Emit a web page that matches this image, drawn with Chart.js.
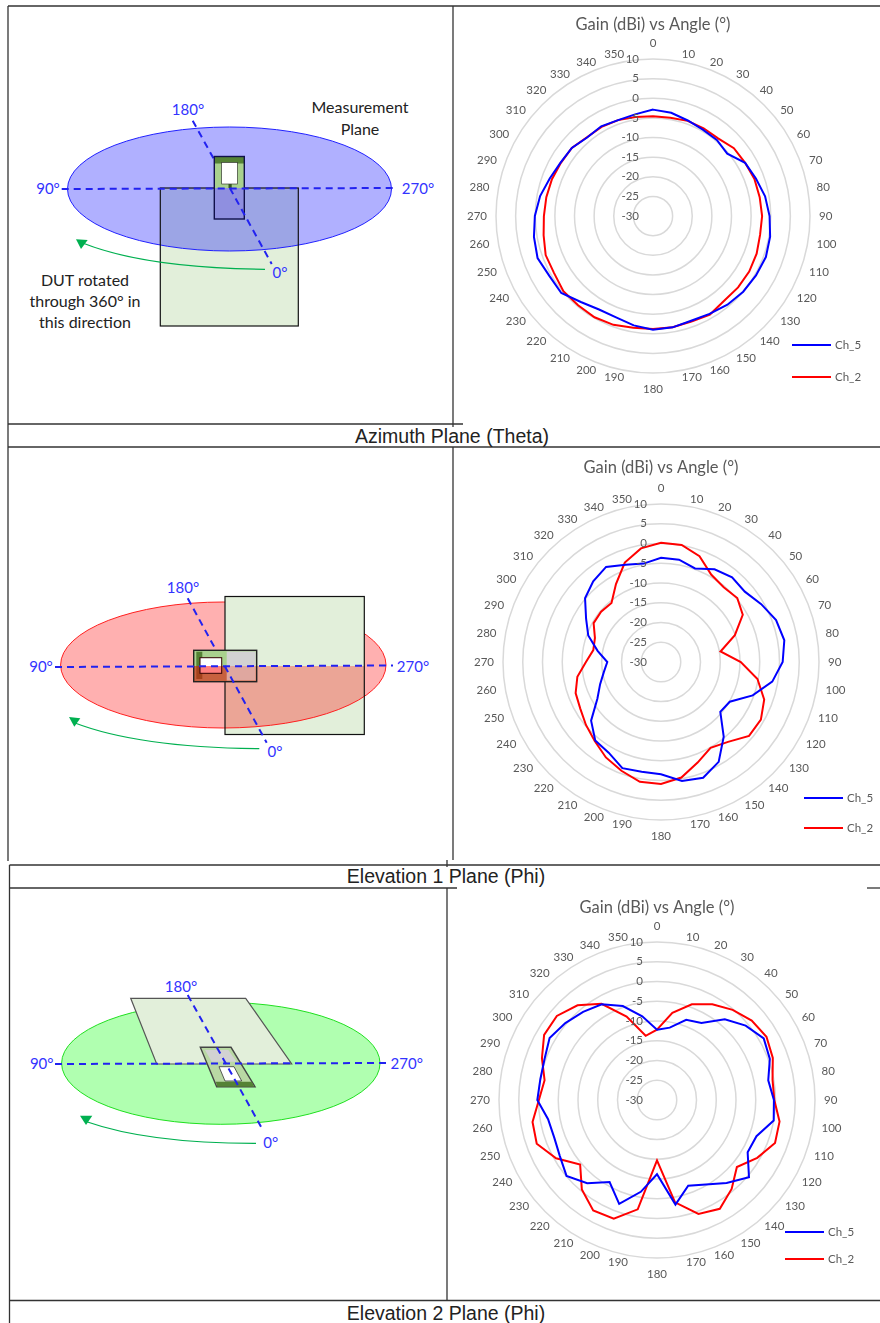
<!DOCTYPE html>
<html>
<head>
<meta charset="utf-8">
<title>Gain vs Angle</title>
<script src="https://cdn.jsdelivr.net/npm/chart.js@4/dist/chart.umd.js"></script>
<style>
    html, body { margin: 0; padding: 0; background: #fff; }
    #page { position: relative; width: 880px; height: 1323px; overflow: hidden; }
    #page svg { position: absolute; left: 0; top: 0; }
    canvas { position: absolute; }
    .lbl { font-family: Lato, sans-serif; font-size: 15px; fill: #3333ff; text-anchor: middle; dominant-baseline: central; }
    .note { font-family: Lato, sans-serif; font-size: 16px; fill: #222; text-anchor: middle; dominant-baseline: central; }
    .cap { font-family: "Liberation Sans", Arial, sans-serif; font-size: 19.5px; fill: #222; text-anchor: middle; dominant-baseline: central; }
    .tl { stroke: #333; stroke-width: 1.3; }
    .dash { stroke: #2222f0; stroke-width: 2; stroke-dasharray: 7 5; fill: none; }
    .arrow { stroke: #00b050; stroke-width: 1.2; fill: none; }
</style>
</head>
<body>
<div id="page">
<svg width="880" height="1323" viewBox="0 0 880 1323">
    <!-- table lines -->
    <line class="tl" x1="8" y1="6" x2="880" y2="6"/>
    <line class="tl" x1="8" y1="6" x2="8" y2="861"/>
    <line class="tl" x1="453" y1="6" x2="453" y2="427"/>
    <line class="tl" x1="453" y1="447" x2="453" y2="860"/>
    <line class="tl" x1="8" y1="424" x2="463" y2="424"/>
    <line class="tl" x1="8" y1="447" x2="880" y2="447"/>
    <line class="tl" x1="9.5" y1="865" x2="880" y2="865"/>
    <line class="tl" x1="9.5" y1="865" x2="9.5" y2="1323"/>
    <line class="tl" x1="447" y1="860" x2="447" y2="867"/>
    <line class="tl" x1="447" y1="888" x2="447" y2="1300"/>
    <line class="tl" x1="9.5" y1="888" x2="457" y2="888"/>
    <line class="tl" x1="867" y1="888" x2="880" y2="888"/>
    <line class="tl" x1="9.5" y1="1300.5" x2="880" y2="1300.5"/>
    <text class="cap" x="452" y="436">Azimuth Plane (Theta)</text>
    <text class="cap" x="446" y="876">Elevation 1 Plane (Phi)</text>
    <text class="cap" x="446" y="1313">Elevation 2 Plane (Phi)</text>

    <!-- azimuth diagram -->
    <rect x="160.3" y="188" width="138" height="138" fill="#e2efda"/>
    <ellipse cx="229.5" cy="189" rx="162" ry="62" fill="rgba(0,0,255,0.31)" stroke="#2020ff" stroke-width="1"/>
    <rect x="160.3" y="188" width="138" height="138" fill="none" stroke="#111" stroke-width="1.2"/>
    <line class="dash" x1="192.7" y1="120.7" x2="229.8" y2="188"/>
    <rect x="214.3" y="156.5" width="30" height="31.5" fill="#a9d18e"/>
    <rect x="214.3" y="157" width="30" height="6.5" fill="#548235"/>
    <rect x="214.3" y="188" width="30" height="31" fill="#8f8fe0"/>
    <rect x="214.3" y="156.5" width="30" height="62.5" fill="none" stroke="#10104a" stroke-width="1.4"/>
    <rect x="221.7" y="162.5" width="15.6" height="21.5" fill="#fff" stroke="#222" stroke-width="0.6"/>
    <rect x="228.5" y="184" width="3.2" height="4" fill="#385723"/>
    <line class="dash" x1="61.7" y1="189" x2="397" y2="188"/>
    <line class="dash" x1="229.8" y1="188" x2="271.7" y2="264"/>
    <text class="lbl" x="188" y="109">180°</text>
    <text class="lbl" x="48" y="188">90°</text>
    <text class="lbl" x="418" y="188">270°</text>
    <text class="lbl" x="280" y="272">0°</text>
    <text class="note" x="360" y="106">Measurement</text>
    <text class="note" x="360" y="128">Plane</text>
    <text class="note" x="85" y="279">DUT rotated</text>
    <text class="note" x="85" y="300">through 360° in</text>
    <text class="note" x="85" y="321">this direction</text>
    <path class="arrow" d="M265 269.3 Q146 268 83.3 243.3"/>
    <polygon points="76,239.3 87.7,240 81,249" fill="#00b050"/>

    <!-- elevation 1 diagram -->
    <rect x="225" y="596.5" width="139.3" height="138" fill="#e2efda"/>
    <ellipse cx="223.3" cy="665" rx="162.7" ry="63" fill="rgba(255,0,0,0.31)" stroke="#ff2020" stroke-width="1"/>
    <rect x="225" y="596.5" width="139.3" height="69.5" fill="#e2efda"/>
    <rect x="225" y="596.5" width="139.3" height="138" fill="none" stroke="#111" stroke-width="1.2"/>
    <line class="dash" x1="187.7" y1="598.3" x2="224.7" y2="666"/>
    <rect x="193.7" y="650.3" width="63" height="15.7" fill="#a9d18e"/>
    <rect x="193.7" y="666" width="63" height="15.7" fill="#c8613f"/>
    <rect x="196.3" y="651.7" width="6" height="14.3" fill="#548235"/>
    <rect x="196.3" y="666" width="6" height="13" fill="#a3421c"/>
    <rect x="226.7" y="651.5" width="29" height="14.5" fill="#d2d2d2"/>
    <rect x="226.7" y="666" width="29" height="14.5" fill="#dfa79f"/>
    <rect x="200" y="657.7" width="21.7" height="8.3" fill="#fff"/>
    <rect x="200" y="666" width="21.7" height="7.3" fill="#ff8080"/>
    <rect x="200" y="657.7" width="21.7" height="15.6" fill="none" stroke="#300" stroke-width="1"/>
    <rect x="193.7" y="650.3" width="63" height="31.4" fill="none" stroke="#222" stroke-width="1.4"/>
    <line class="dash" x1="55" y1="667" x2="393" y2="665.5"/>
    <line class="dash" x1="224.7" y1="666" x2="266.7" y2="742.7"/>
    <text class="lbl" x="183" y="587.3">180°</text>
    <text class="lbl" x="41" y="666">90°</text>
    <text class="lbl" x="413" y="666">270°</text>
    <text class="lbl" x="275" y="751">0°</text>
    <path class="arrow" d="M259.3 748.7 Q139 747.5 75 723"/>
    <polygon points="69,717 80.3,718.3 74.3,726.7" fill="#00b050"/>

    <!-- elevation 2 diagram -->
    <ellipse cx="220.8" cy="1063.3" rx="159.2" ry="61" fill="rgba(0,255,0,0.31)" stroke="#20e020" stroke-width="1"/>
    <polygon points="130.7,998.3 245.7,998.3 291.7,1064 156.7,1064" fill="#e2efda" stroke="#555" stroke-width="1.2"/>
    <polygon points="200.3,1047.3 231,1047.3 255,1086.7 216.7,1086.7" fill="#b9d8a4" stroke="#444" stroke-width="1.4"/>
    <polygon points="205,1050 228.3,1050 236.7,1061.7 211.7,1061.7" fill="#d2d2d2"/>
    <polygon points="219,1066.7 234,1066.7 241.7,1081 225,1081" fill="#fff" stroke="#333" stroke-width="0.8"/>
    <polygon points="215.7,1081.7 251.7,1081.7 254.3,1086.7 217.3,1086.7" fill="#548235"/>
    <line class="dash" x1="55" y1="1064" x2="386.7" y2="1063"/>
    <line class="dash" x1="187.7" y1="995" x2="261" y2="1126.7"/>
    <text class="lbl" x="181" y="986">180°</text>
    <text class="lbl" x="41.7" y="1063">90°</text>
    <text class="lbl" x="406.7" y="1063">270°</text>
    <text class="lbl" x="270.7" y="1141.7">0°</text>
    <path class="arrow" d="M256 1143.3 Q149 1143.5 86.7 1121.7"/>
    <polygon points="80,1115.7 92.3,1115.7 86,1125" fill="#00b050"/>
</svg>
<canvas id="azimuth" style="left:455px;top:10px;width:424px;height:400px"></canvas>
<canvas id="elevation1" style="left:464px;top:454px;width:416px;height:400px"></canvas>
<canvas id="elevation2" style="left:450px;top:893px;width:426px;height:400px"></canvas>
</div>

<script>
const angles = ['0','10','20','30','40','50','60','70','80','90','100','110','120','130','140','150','160','170',
    '180','190','200','210','220','230','240','250','260','270','280','290','300','310','320','330','340','350'];
const gainMin = -30;
const gainMax = 10;
const gainStep = 5;
const seriesNames = ['Ch_5', 'Ch_2'];

const azimuthCh5 = [-2.9,-3.3,-4.1,-4.6,-4.7,-5.3,-2.9,-2.1,-1.0,-0.3,0.3,0.6,0.3,0.0,-0.5,-1.2,-1.6,-1.2,
    -1.0,-1.7,-2.5,-2.5,-1.4,0.5,0.5,1.3,0.8,0.1,-0.8,-2.0,-2.8,-3.0,-3.9,-3.6,-4.0,-3.7];
const azimuthCh2 = [-4.6,-4.6,-4.2,-4.2,-4.2,-3.1,-2.9,-2.5,-2.4,-2.2,-2.3,-1.9,-1.7,-1.7,-1.8,-1.0,-1.4,-1.2,
    -1.2,-1.1,-0.5,-0.2,-0.3,-0.2,-0.9,-0.9,-1.7,-2.2,-2.4,-2.6,-2.9,-3.0,-3.8,-3.8,-4.0,-4.4];

const elev1Ch5 = [-3.6,-3.7,-4.8,-2.9,-2.0,-2.3,-0.7,1.0,1.7,0.8,-1.4,-5.3,-9.9,-10.4,-5.3,-0.8,1.2,0.6,
    -1.6,-1.8,-1.4,-3.5,-4.1,-6.9,-11.4,-13.6,-15.3,-16.4,-13.7,-10.4,-8.1,-4.9,-3.3,-2.2,-3.8,-4.7];
const elev1Ch2 = [0.2,0.1,-1.5,-4.5,-5.3,-4.8,-6.1,-10.1,-14.7,-9.8,-5.2,-2.2,-0.8,-0.9,-3.6,-4.9,-2.9,-0.3,
    0.9,0.8,-0.7,-2.1,-3.9,-5.2,-6.4,-7.0,-8.5,-11.0,-12.6,-12.2,-10.3,-10.2,-10.5,-7.2,-3.2,-0.8];

const elev2Ch5 = [-12.2,-11.4,-8.4,-7.5,-3.3,-0.7,1.2,0.4,-1.4,-0.4,0.0,-3.2,-3.5,0.4,-2.6,-5.3,-6.9,-3.1,
    -11.2,-6.4,-2.0,-6.0,-2.5,-0.1,-1.6,-2.3,-2.0,0.3,0.0,0.3,1.4,0.3,-0.9,-2.0,-4.7,-8.5];
const elev2Ch2 = [-12.2,-7.6,-4.2,-2.0,-0.2,1.3,2.0,1.2,-0.3,-0.3,1.5,1.8,-0.7,-3.6,-0.6,1.8,0.7,-3.7,
    -14.7,-1.9,2.0,2.3,-0.4,-4.6,-0.5,2.4,2.0,-0.1,-1.1,1.0,3.0,3.1,1.3,-1.9,-7.5,-13.5];

const textColor = '#595959';
const fontName = 'Lato, sans-serif';

// gain labels sit left of the vertical axis, angle labels hug the rim, legend is a small stack at the lower right
const polarExtras = {
    id: 'polarExtras',
    afterDraw(chart, args, opts) {
        const ctx = chart.ctx;
        const r = chart.scales.r;
        ctx.save();
        ctx.font = '11.5px ' + fontName;
        ctx.fillStyle = textColor;
        ctx.textBaseline = 'middle';

        ctx.textAlign = 'right';
        r.ticks.forEach(function(t) {
            ctx.fillText(t.value, r.xCenter - 14, r.yCenter - r.getDistanceFromCenterForValue(t.value));
        });

        angles.forEach(function(label, i) {
            const pole = (i === 0 || i === 18);
            const xPos = r.getPointPosition(i, r.drawingArea + 9);
            const yPos = r.getPointPosition(i, r.drawingArea + (pole ? 16 : 7));
            ctx.textAlign = pole ? 'center' : (i < 18 ? 'left' : 'right');
            ctx.fillText(label, xPos.x, yPos.y);
        });

        chart.data.datasets.forEach(function(ds, i) {
            const y = opts.y + i * opts.gap;
            ctx.strokeStyle = ds.borderColor;
            ctx.lineWidth = 2;
            ctx.beginPath();
            ctx.moveTo(opts.x, y);
            ctx.lineTo(opts.x + 39, y);
            ctx.stroke();
            ctx.textAlign = 'left';
            ctx.fillText(ds.label, opts.x + 43, y);
        });
        ctx.restore();
    }
};

function makePolar(id, ch5, ch2, box, legend) {
    return new Chart(document.getElementById(id), {
        type: 'radar',
        plugins: [polarExtras],
        data: {
            labels: angles,
            datasets: [
                { label: seriesNames[0], data: ch5, borderColor: '#0000ff', borderWidth: 2, pointRadius: 0, fill: false, tension: 0 },
                { label: seriesNames[1], data: ch2, borderColor: '#ff0000', borderWidth: 2, pointRadius: 0, fill: false, tension: 0 }
            ]
        },
        options: {
            responsive: false,
            animation: false,
            layout: { padding: { right: box.right, bottom: box.bottom } },
            scales: {
                r: {
                    min: gainMin,
                    max: gainMax,
                    ticks: { stepSize: gainStep, display: false },
                    grid: { circular: true, color: '#d9d9d9', lineWidth: 1.5 },
                    angleLines: { display: false },
                    pointLabels: { display: false }
                }
            },
            plugins: {
                legend: { display: false },
                tooltip: { enabled: false },
                title: {
                    display: true,
                    text: 'Gain (dBi) vs Angle (°)',
                    color: textColor,
                    font: { family: fontName, size: 16.5, weight: 'normal' },
                    padding: { top: box.titleTop, bottom: box.titleBottom }
                },
                polarExtras: legend
            }
        }
    });
}

function sizeCanvas(id) {
    const c = document.getElementById(id);
    c.width = parseInt(c.style.width);
    c.height = parseInt(c.style.height);
}

['azimuth', 'elevation1', 'elevation2'].forEach(sizeCanvas);

makePolar('azimuth', azimuthCh5, azimuthCh2, { right: 28, bottom: 36, titleTop: 5.1, titleBottom: 24.8 }, { x: 337, y: 335, gap: 32 });
makePolar('elevation1', elev1Ch5, elev1Ch2, { right: 22, bottom: 33.5, titleTop: 4.1, titleBottom: 26.4 }, { x: 340, y: 344, gap: 30 });
makePolar('elevation2', elev2Ch5, elev2Ch2, { right: 12, bottom: 35, titleTop: 5.1, titleBottom: 24.1 }, { x: 335, y: 339, gap: 27 });
</script>
</body>
</html>
